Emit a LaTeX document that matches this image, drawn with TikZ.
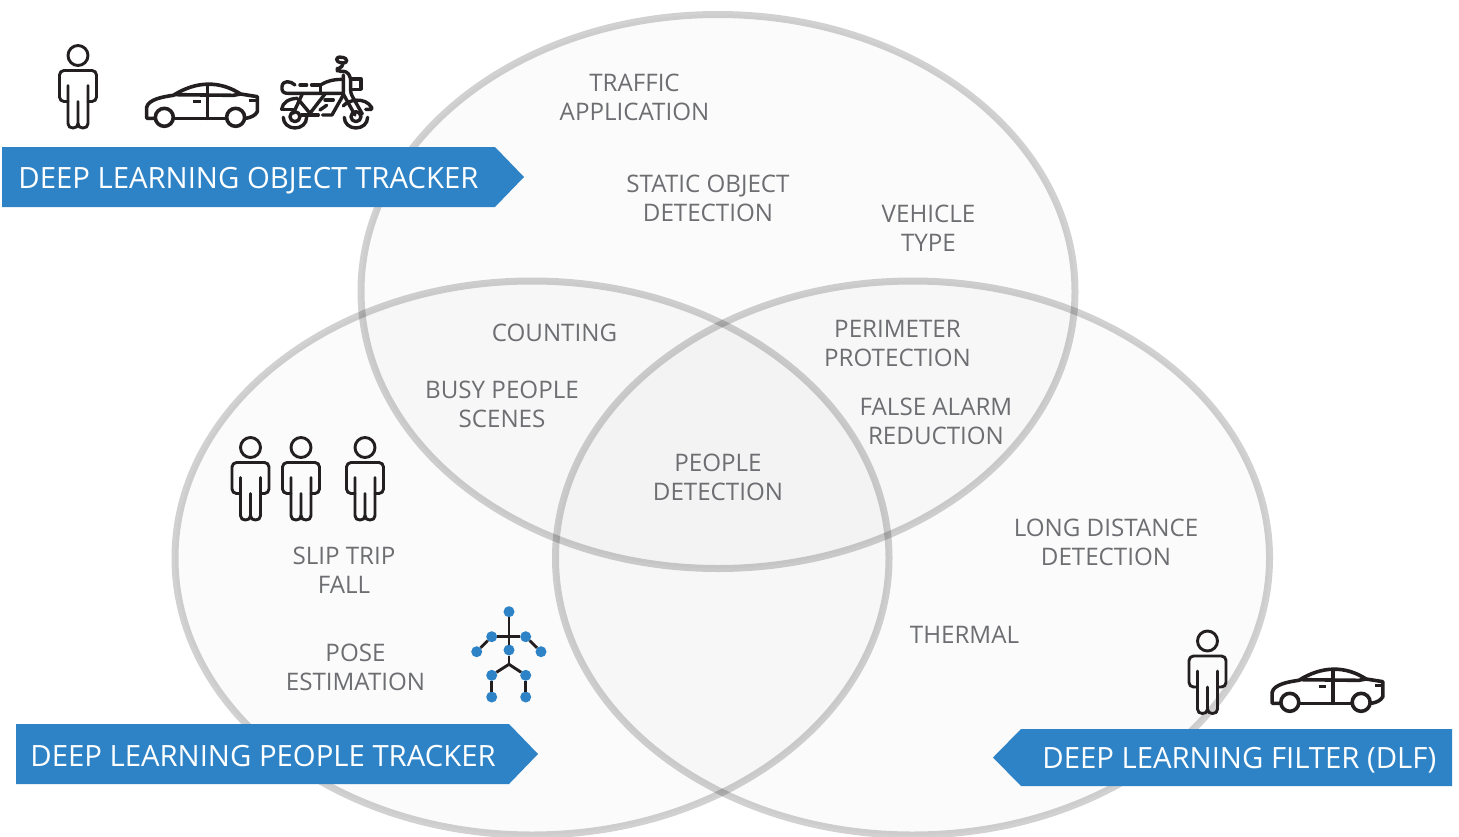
\documentclass[tikz,border=0pt]{standalone}
\usepackage{fontspec}
\setmainfont{Open Sans}
\definecolor{bannerblue}{HTML}{2E83C6}
\definecolor{labelgray}{HTML}{6D6E71}
\definecolor{iconink}{HTML}{231F20}
\tikzset{
  vennset/.style={draw=black,draw opacity=.18,line width=7pt,fill=black,fill opacity=.017},
  banner/.style={fill=bannerblue,draw=none},
  bannertext/.style={text=white,inner sep=0pt,font=\fontsize{29.3}{36}\selectfont},
  lbl/.style={text=labelgray,align=center,inner sep=0pt,font=\fontsize{24.15}{29}\selectfont},
  ink/.style={draw=iconink,line width=2.9pt,line join=round,line cap=round},
  joint/.style={circle,fill=bannerblue,draw=none,inner sep=0pt,outer sep=0pt,minimum size=11pt},
  person/.pic={
    \draw[ink] (0,0) circle (10);
    \draw[ink,rounded corners=4.5] (-10,46) -- (-18.5,46) -- (-18.5,15) -- (18.5,15) -- (18.5,46) -- (10,46);
    \draw[ink] (-10,30) -- (-10,68) .. controls (-10,71) and (-8,72.5) .. (-5,72.5) .. controls (-2,72.5) and (0,71) .. (0,68) -- (0,46);
    \draw[ink] (10,30) -- (10,68) .. controls (10,71) and (8,72.5) .. (5,72.5) .. controls (2,72.5) and (0,71) .. (0,68);
  },
  car/.pic={
    \begin{scope}[x=.3333pt,y=-.3333pt,line width=3.6pt,draw=iconink,line join=round,line cap=round]
    \draw (462,265) -- (440,265) -- (440,232) .. controls (445,208) and (490,200) .. (520,196)
       .. controls (590,152) and (660,152) .. (722,192) -- (772,200) -- (772,245) .. controls (767,255) and (755,262) .. (738,265);
    \draw (525,265) -- (677,265);
    \draw (525,194) -- (700,196) -- (722,192);
    \draw (622,165) -- (622,265);
    \draw (493,262) circle (27);
    \draw (707,262) circle (27);
    \draw[line cap=butt,line width=3.4pt] (580,215) -- (603,215);
    \draw[line cap=butt] (748,212) -- (772,212);
    \end{scope}
  },
  bike/.pic={
    \begin{scope}[x=.3333pt,y=-.3333pt,line width=3.4pt,draw=iconink,line join=round,line cap=round]
    \draw (850,262) .. controls (850,281) and (866,294) .. (885,294) .. controls (904,294) and (920,281) .. (920,262);
    \draw (1033,262) .. controls (1033,281) and (1049,294) .. (1068,294) .. controls (1087,294) and (1103,281) .. (1103,262);
    \draw (885,260) circle (15);
    \draw (1068,260) circle (15);
    \draw (845,238) .. controls (848,218) and (865,206) .. (892,205);
    \draw (845,238) -- (880,238);
    \draw (900,165) -- (920,165);
    \draw (935,165) -- (960,165);
    \draw (885,165) .. controls (872,152) and (848,150) .. (846,170) -- (846,178) .. controls (848,188) and (855,190) .. (865,190) -- (1030,190);
    \draw (962,165) .. controls (985,150) and (1010,148) .. (1030,148);
    \draw (962,165) -- (962,190);
    \draw (1052,147) -- (1083,147) -- (1083,178) -- (1058,178);
    \draw[rounded corners=3pt] (1010,80) -- (1040,84) -- (1040,100) -- (1010,96) -- cycle;
    \draw[rounded corners=3pt] (1028,100) -- (1028,112) -- (1012,114) -- (1012,124) -- (1040,124) -- (1052,142) -- (1052,190) -- (1087,252);
    \draw (1030,135) -- (1030,192) -- (1065,255);
    \draw (1030,228) .. controls (1045,208) and (1095,200) .. (1115,232) -- (1115,238) -- (1097,238);
    \draw (907,192) -- (880,250);
    \draw (895,208) -- (930,250) -- (975,192);
    \draw (905,255) -- (955,255);
    \draw (968,255) -- (996,255) -- (1030,195);
    \draw (960,240) -- (980,226);
    \draw (975,210) -- (1000,210);
    \end{scope}
  }
}
\begin{document}
\begin{tikzpicture}[x=1pt,y=-1pt]
\useasboundingbox (0,0) rectangle (1459,836);
\fill[white] (0,0) rectangle (1459,836);
\begin{scope}
\clip (0,0) rectangle (1459,836);
\draw[vennset] (718,291.5) ellipse [x radius=357pt,y radius=277pt];
\draw[vennset] (532,558) ellipse [x radius=357pt,y radius=277pt];
\draw[vennset] (912.5,558) ellipse [x radius=357pt,y radius=277pt];
\end{scope}

\fill[banner] (2,147) -- (495,147) -- (524,177) -- (495,207) -- (2,207) -- cycle;
\fill[banner] (16,724) -- (509,724) -- (538,754) -- (509,784) -- (16,784) -- cycle;
\fill[banner] (1452,729) -- (1021,729) -- (993,757.5) -- (1021,786) -- (1452,786) -- cycle;
\node[bannertext,anchor=west] (objbanner) at (18.2,180.2) {DEEP LEARNING OBJECT TRACKER};
\node[bannertext,anchor=west] (peoplebanner) at (30.2,755.8) {DEEP LEARNING PEOPLE TRACKER};
\node[bannertext,anchor=west] (filterbanner) at (1042.2,760) {DEEP LEARNING FILTER (DLF)};

\node[lbl] (traffic) at (634.5,97) {TRAFFIC\\APPLICATION};
\node[lbl] (static) at (708,198) {STATIC OBJECT\\DETECTION};
\node[lbl] (vehicle) at (928.5,228) {VEHICLE\\TYPE};
\node[lbl] (counting) at (554.5,332.5) {COUNTING};
\node[lbl] (busy) at (502,404) {BUSY PEOPLE\\SCENES};
\node[lbl] (perimeter) at (897.5,343.2) {PERIMETER\\PROTECTION};
\node[lbl] (falsealarm) at (936,421) {FALSE ALARM\\REDUCTION};
\node[lbl] (peopledet) at (718,477) {PEOPLE\\DETECTION};
\node[lbl] (longdist) at (1106,542) {LONG DISTANCE\\DETECTION};
\node[lbl] (thermal) at (964.5,634.5) {THERMAL};
\node[lbl] (slip) at (344,570) {SLIP TRIP\\FALL};
\node[lbl] (pose) at (355.5,667) {POSE\\ESTIMATION};

\pic at (78,55.5) {person};
\pic at (0,30) {car};
\pic at (0,30) {bike};
\pic at (250.5,447.5) {person};
\pic at (301,447.5) {person};
\pic at (365,447.5) {person};
\pic at (1207.5,641) {person};
\pic at (1125.5,615) {car};

\node[joint] (head) at (509,611.7) {};
\node[joint] (shl) at (491.7,636.7) {};
\node[joint] (shr) at (525.7,636.7) {};
\node[joint] (handl) at (476.7,651.7) {};
\node[joint] (handr) at (541,651.7) {};
\node[joint] (mid) at (509,650) {};
\coordinate (hip) at (509,664.3);
\node[joint] (kneel) at (491.7,675.3) {};
\node[joint] (kneer) at (525.7,675.3) {};
\node[joint] (footl) at (491.7,697) {};
\node[joint] (footr) at (525.7,697) {};
\draw[ink,line cap=butt] (head) -- (mid) -- (hip);
\draw[ink,line cap=butt] (shl) -- (shr);
\draw[ink,line cap=butt] (shl) -- (handl);
\draw[ink,line cap=butt] (shr) -- (handr);
\draw[ink,line cap=butt] (kneel) -- (hip) -- (kneer);
\draw[ink,line cap=butt] (kneel) -- (footl);
\draw[ink,line cap=butt] (kneer) -- (footr);
\end{tikzpicture}
\end{document}
